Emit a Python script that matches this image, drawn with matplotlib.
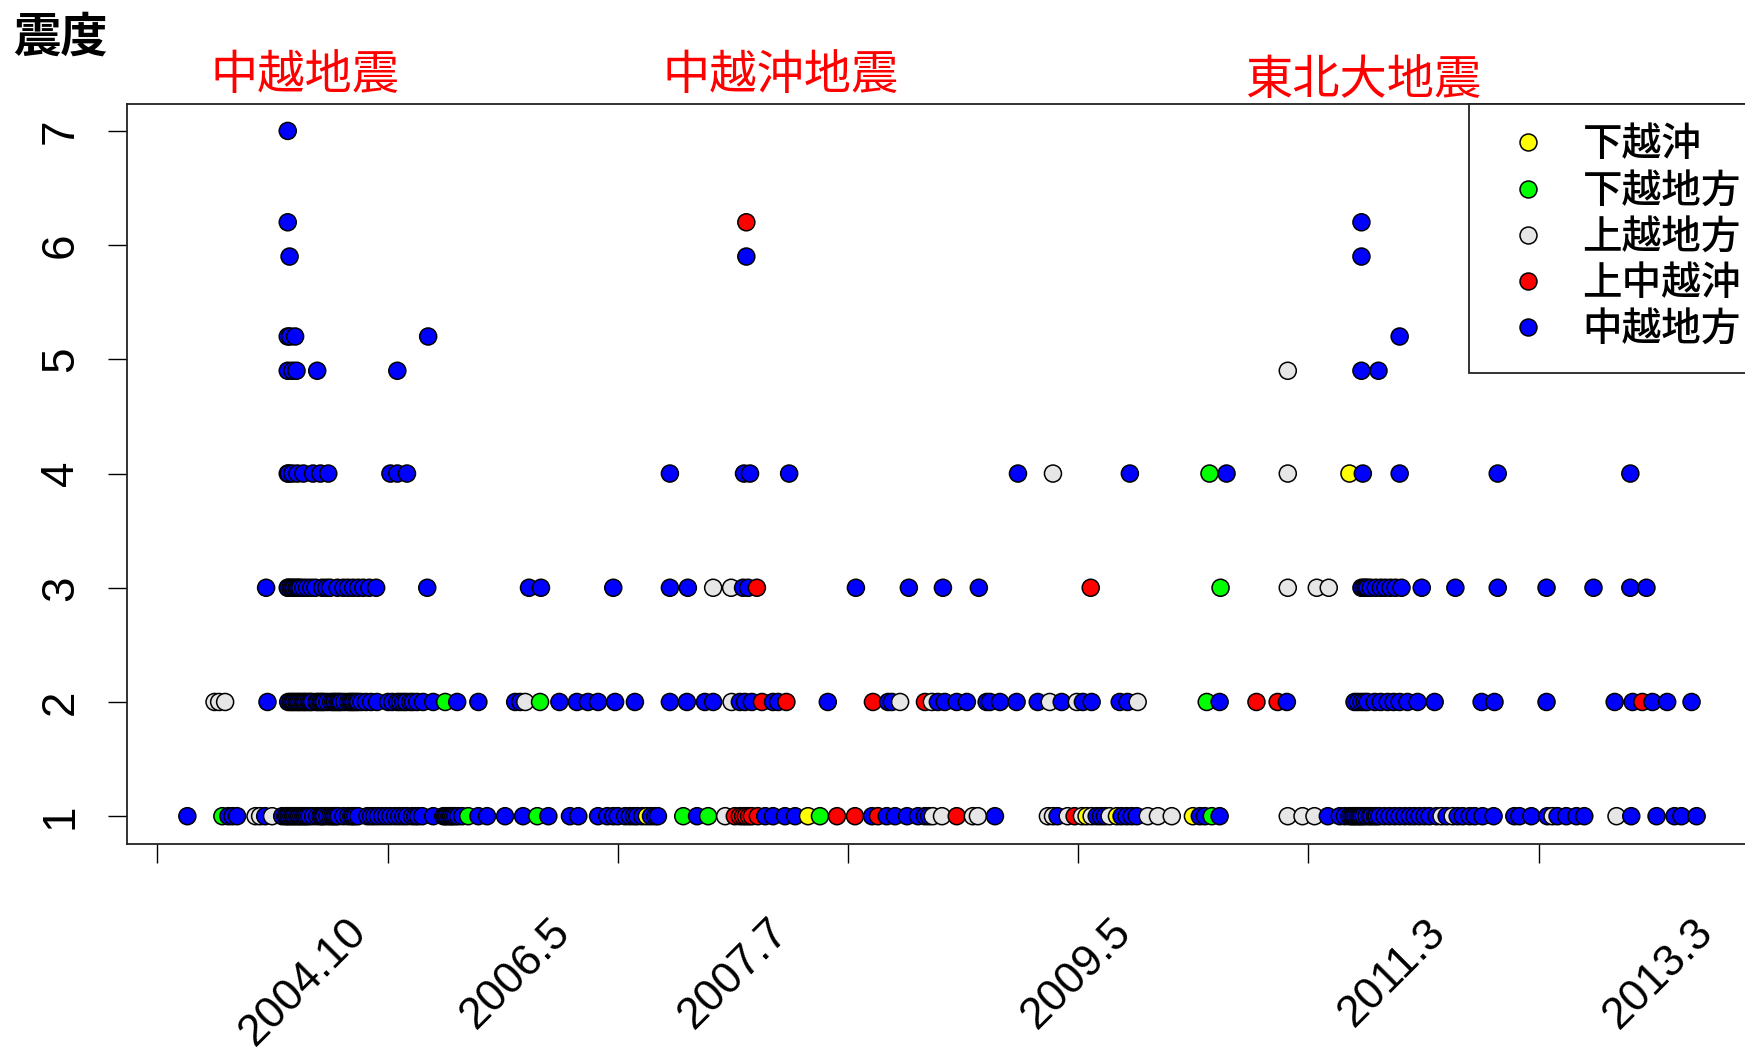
import matplotlib
matplotlib.use("Agg")
import matplotlib.pyplot as plt
import matplotlib.transforms as mtransforms
from matplotlib.patches import Rectangle
import numpy as np

plt.rcParams['font.family'] = ['Noto Sans CJK JP', 'DejaVu Sans']

# ---------------- data ----------------
# dates are Excel serial day numbers; area codes: Y,G,W,R,B (see legend order)
area_names = ['下越沖', '下越地方', '上越地方', '上中越沖', '中越地方']
area_codes = ['Y', 'G', 'W', 'R', 'B']
area_colors = ['#FFFF00', '#00FF00', '#E6E6E6', '#FF0000', '#0000FF']

shindo_levels = [1, 2, 3, 4, 4.9, 5.2, 5.9, 6.2, 7]
shindo_ticks = [1, 2, 3, 4, 5, 6, 7]

s1_dates = [38065, 38141, 38154, 38163, 38173, 38213, 38223, 38234, 38249, 38271,
            38278, 38282, 38286, 38291, 38295, 38299, 38304, 38308, 38312, 38317,
            38321, 38325, 38330, 38338, 38347, 38354, 38358, 38362, 38369, 38375,
            38380, 38384, 38388, 38393, 38404, 38414, 38421, 38425, 38430, 38436,
            38456, 38464, 38471, 38479, 38488, 38497, 38506, 38516, 38525, 38534,
            38542, 38553, 38560, 38566, 38575, 38599, 38621, 38625, 38629, 38634,
            38638, 38642, 38647, 38653, 38662, 38675, 38697, 38716, 38755, 38794,
            38825, 38849, 38896, 38914, 38957, 38977, 38990, 39000, 39016, 39026,
            39035, 39042, 39053, 39063, 39072, 39081, 39087, 39142, 39172, 39196,
            39233, 39254, 39265, 39272, 39278, 39285, 39291, 39304, 39320, 39337,
            39363, 39385, 39413, 39439, 39476, 39515, 39552, 39565, 39584, 39602,
            39628, 39652, 39667, 39676, 39684, 39704, 39736, 39771, 39782, 39819,
            39934, 39945, 39955, 39977, 39992, 40008, 40018, 40029, 40040, 40049,
            40058, 40068, 40084, 40094, 40105, 40116, 40127, 40151, 40173, 40203,
            40249, 40264, 40275, 40290, 40307, 40455, 40487, 40513, 40542, 40568,
            40579, 40589, 40594, 40598, 40602, 40607, 40611, 40615, 40620, 40626,
            40633, 40637, 40644, 40648, 40654, 40665, 40676, 40687, 40698, 40709,
            40720, 40730, 40741, 40752, 40763, 40778, 40789, 40800, 40813, 40824,
            40835, 40850, 40861, 40878, 40902, 40947, 40958, 40984, 41019, 41030,
            41041, 41060, 41082, 41099, 41169, 41201, 41256, 41295, 41310, 41343]
s1_area = ("BGBBBWWBWB" "BBBBBBBBBB" "BBBBBBBBBB" "BBBBBBBBBB" "BBBBBBBBBB"
           "BBBBBBBBBB" "BBBBBGBBBB" "GBBBBBBBBB" "BBBYBBBGBG" "WRRRRRRRBB"
           "BBYGRRBRBB" "BBBBWWRWWB" "WWBWRWYWBB" "BWYBBBBWWW" "YBBGBWWWBB"
           "BBBBBBBBBB" "BBBBBBBBBB" "BBBBBBWBWB" "BBBBBBBBBW" "BBBBWBBBBB")

s2_dates = [38124, 38134, 38147, 38239, 38284, 38289, 38293, 38297, 38302, 38306,
            38310, 38315, 38319, 38323, 38328, 38332, 38336, 38345, 38349, 38354,
            38358, 38362, 38369, 38377, 38382, 38386, 38391, 38395, 38399, 38406,
            38414, 38419, 38423, 38427, 38432, 38436, 38443, 38453, 38464, 38477,
            38501, 38510, 38521, 38527, 38534, 38540, 38549, 38555, 38564, 38577,
            38599, 38625, 38651, 38697, 38777, 38788, 38799, 38831, 38873, 38911,
            38935, 38957, 38994, 39037, 39113, 39150, 39189, 39207, 39247, 39265,
            39276, 39291, 39313, 39337, 39348, 39366, 39456, 39554, 39587, 39595,
            39613, 39667, 39682, 39695, 39710, 39736, 39758, 39801, 39808, 39830,
            39866, 39912, 39938, 39964, 39997, 40010, 40029, 40090, 40107, 40129,
            40279, 40307, 40387, 40433, 40453, 40600, 40607, 40615, 40622, 40628,
            40644, 40657, 40672, 40685, 40698, 40715, 40737, 40774, 40876, 40904,
            41017, 41165, 41204, 41225, 41247, 41279, 41332]
s2_area = ("WWWBBBBBBB" "BBBBBBBBBB" "BBBBBBBBBB" "BBBBBBBBBB" "BBBBBBBBBB"
           "BGBBBBWGBB" "BBBBBBBBWB" "BBRBBRBRBB" "WRWBBBBBBB" "BBWBWBBBBW"
           "GBRRBBBBBB" "BBBBBBBBBB" "BBBRBBB")

s3_dates = [38236, 38283, 38284, 38289, 38293, 38297, 38302, 38306, 38310, 38317,
            38325, 38334, 38343, 38358, 38367, 38375, 38391, 38404, 38414, 38425,
            38436, 38447, 38460, 38475, 38586, 38807, 38833, 38990, 39113, 39152,
            39207, 39246, 39272, 39283, 39302, 39517, 39632, 39706, 39784, 40027,
            40309, 40455, 40518, 40544, 40615, 40620, 40624, 40628, 40635, 40646,
            40657, 40667, 40678, 40689, 40702, 40746, 40819, 40911, 41017, 41119,
            41199, 41234]
s3_area = ("BBBBBBBBBB" "BBBBBBBBBB" "BBBBBBBBBB" "WWBBRBBBBR" "GWWWBBBBBB"
           "BBBBBBBBBB" "BB")

s4_dates = [38283, 38285, 38293, 38304, 38317, 38338, 38354, 38371, 38506, 38521,
            38542, 39113, 39274, 39287, 39372, 39869, 39945, 40112, 40285, 40322,
            40455, 40589, 40618, 40698, 40911, 41199]
s4_area = "BBBBBBBBBB" "BBBBBBWBGB" "WYBBBB"

s5m_dates = [38283, 38293, 38302, 38347, 38521, 40455, 40615, 40652]
s5m_area = "BBBBBWBB"
s5p_dates = [38283, 38288, 38299, 38588, 40698]
s5p_area = "BBBBB"
s6m_dates = [38287, 39279, 40615]
s6m_area = "BBB"
s6p_dates = [38283, 39279, 40615]
s6p_area = "BRB"
s7_dates = [38283]
s7_area = "B"

date_labels = ['2004.10', '2006.5', '2007.7', '2009.5', '2011.3', '2013.3']
date_label_at = [38440, 38882, 39357, 40102, 40785, 41364]

quake_names = ['中越地震', '中越沖地震', '東北大地震']

# ---------------- assemble ----------------
dates_by_level = [s1_dates, s2_dates, s3_dates, s4_dates, s5m_dates,
                  s5p_dates, s6m_dates, s6p_dates, s7_dates]
areas_by_level = [s1_area, s2_area, s3_area, s4_area, s5m_area,
                  s5p_area, s6m_area, s6p_area, s7_area]

xs, ys, cs = [], [], []
color_of = dict(zip(area_codes, area_colors))
for lev, ds, ar in zip(shindo_levels, dates_by_level, areas_by_level):
    n = min(len(ds), len(ar))
    for d, a in zip(ds[:n], ar[:n]):
        xs.append(d)
        ys.append(lev)
        cs.append(color_of[a])
xs = np.array(xs, float)
ys = np.array(ys, float)
cs = np.array(cs)
order = np.argsort(xs, kind='stable')

# ---------------- figure ----------------
W, H = 1745, 1055
fig = plt.figure(figsize=(W / 100, H / 100), dpi=100)
ax = fig.add_axes([127 / W, (H - 843.6) / H, 1630 / W, 740.1 / H])

ax.scatter(xs[order], ys[order], s=150, c=cs[order], edgecolors='black',
           linewidths=1.1, zorder=3)

xr = xs.max() - xs.min()
ax.set_xlim(xs.min() - 0.04 * xr, xs.max() + 0.04 * xr)
ax.set_ylim(1 - 0.04 * 6, 7 + 0.04 * 6)

for sp in ax.spines.values():
    sp.set_linewidth(1.3)
    sp.set_color('#222222')

ax.set_xticks(np.arange(38000, 41001, 500))
ax.tick_params(axis='x', labelbottom=False, length=13.7, width=1.0)
ax.set_yticks(shindo_ticks)
ax.set_yticklabels([str(t) for t in shindo_ticks], rotation=90, va='center',
                   fontsize=33, family=['Liberation Sans', 'DejaVu Sans'])
ax.tick_params(axis='y', length=13.7, width=1.0, pad=18)

trans = mtransforms.blended_transform_factory(ax.transData, ax.transAxes)
for lab, d in zip(date_labels, date_label_at):
    ax.text(d, -0.111, lab, transform=trans, rotation=45, ha='right', va='center',
            rotation_mode='anchor', fontsize=32,
            family=['Liberation Sans', 'DejaVu Sans'], clip_on=False)

# title and event annotations
fig.text(13 / W, 1 - 14 / H, '震度', ha='left', va='top', fontsize=34,
         fontweight='bold', color='black')
for name, px, py in zip(quake_names, [305, 781, 1363], [76, 76, 81]):
    fig.text(px / W, 1 - py / H, name, ha='center', va='center', fontsize=34,
             color='red')

# legend (top-right, box runs off the page like the original)
ax.add_patch(Rectangle((0.8233, 0.6359), 0.1767, 0.3641, transform=ax.transAxes,
                       facecolor='white', edgecolor='#222222', lw=1.3,
                       zorder=6, clip_on=False))
row_y = [0.9484, 0.8845, 0.8223, 0.7606, 0.6984]
for ry, name, col in zip(row_y, area_names, area_colors):
    ax.plot([0.8595], [ry], marker='o', markersize=12.2, markerfacecolor=col,
            markeredgecolor='black', markeredgewidth=1.1, linestyle='none',
            transform=ax.transAxes, zorder=7, clip_on=False)
    ax.text(0.8929, ry - 0.004, name, transform=ax.transAxes, ha='left',
            va='center', fontsize=28.5, fontweight='medium', zorder=7,
            clip_on=False)

fig.savefig('out.png', dpi=100, facecolor='white')
